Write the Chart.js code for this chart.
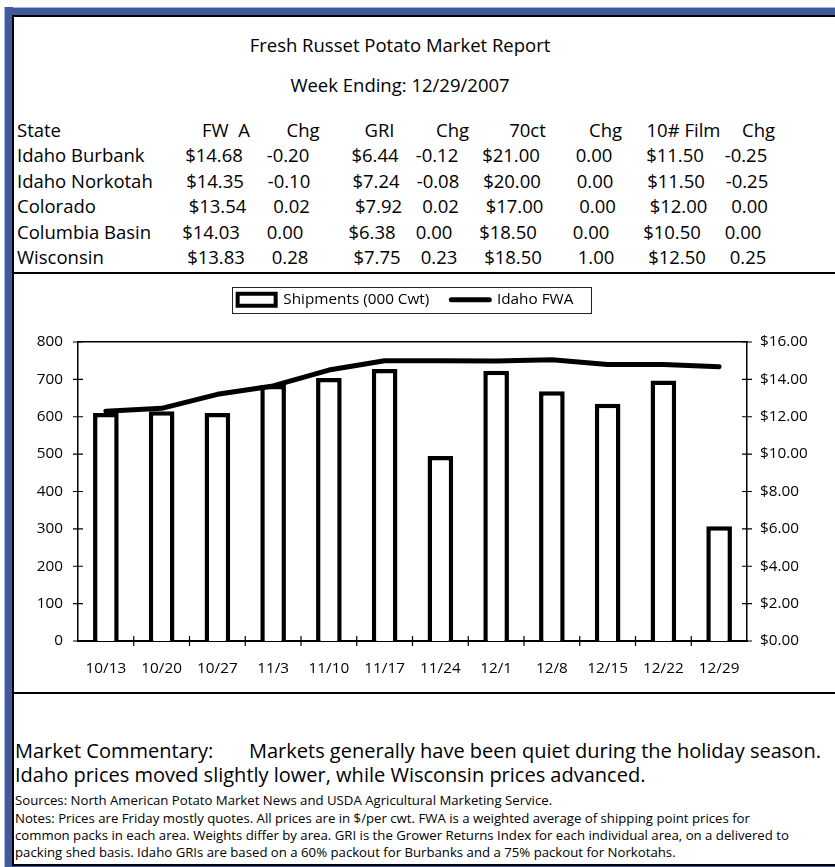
<!DOCTYPE html>
<html>
<head>
<meta charset="utf-8">
<script src="https://cdn.jsdelivr.net/npm/chart.js@4.4.1/dist/chart.umd.min.js"></script>
<style>
  body { margin: 0; width: 835px; height: 867px; position: relative; overflow: hidden; background: #fff; font-family: "Open Sans", sans-serif; color: #000; }
  .abs { position: absolute; white-space: pre; line-height: 1; }
  .blue { position: absolute; background: #405a9c; }
  .black { position: absolute; background: #000; }
  #chartBox { position: absolute; left: 14px; top: 270px; width: 821px; height: 422px; }
</style>
</head>
<body>
<div class="blue" style="left:4px; top:7px; width:831px; height:8px; border-top:1px solid #a9b4d8;"></div>
<div class="blue" style="left:4px; top:7px; width:8px; height:860px; border-left:1px solid #a9b4d8;"></div>
<div class="blue" style="left:12px; top:866px; width:823px; height:1px;"></div>
<div class="black" style="left:12px; top:15px; width:823px; height:2px;"></div>
<div class="black" style="left:12px; top:15px; width:2px; height:851px;"></div>
<div class="black" style="left:12px; top:864px; width:823px; height:2px;"></div>
<div class="black" style="left:14px; top:272px; width:821px; height:2px;"></div>
<div class="black" style="left:14px; top:692px; width:821px; height:2px;"></div>
<div id="text"></div>
<div id="chartBox"><canvas id="potatoChart"></canvas></div>
<script>
// weekly shipments (000 cwt) and Idaho FWA price
const weeks = ['10/13', '10/20', '10/27', '11/3', '11/10', '11/17', '11/24', '12/1', '12/8', '12/15', '12/22', '12/29'];
const shipments = [610, 615, 610, 685, 704, 728, 495, 723, 668, 635, 697, 307];
const idahoFwa = [12.30, 12.45, 13.20, 13.65, 14.50, 15.00, 15.00, 14.98, 15.05, 14.80, 14.80, 14.68];
const seriesNames = ['Shipments (000 Cwt)', 'Idaho FWA'];

// price table
const tableHeader = ['State', 'FW  A', 'Chg', 'GRI', 'Chg', '70ct', 'Chg', '10# Film', 'Chg'];
const tableRows = [
    ['Idaho Burbank', '$14.68', '-0.20', '$6.44', '-0.12', '$21.00', '0.00', '$11.50', '-0.25'],
    ['Idaho Norkotah', '$14.35', '-0.10', '$7.24', '-0.08', '$20.00', '0.00', '$11.50', '-0.25'],
    ['Colorado', '$13.54', '0.02', '$7.92', '0.02', '$17.00', '0.00', '$12.00', '0.00'],
    ['Columbia Basin', '$14.03', '0.00', '$6.38', '0.00', '$18.50', '0.00', '$10.50', '0.00'],
    ['Wisconsin', '$13.83', '0.28', '$7.75', '0.23', '$18.50', '1.00', '$12.50', '0.25']
];

const FONT = '"Open Sans", sans-serif';
const textLayer = document.getElementById('text');

function place(str, x, y, size, center) {
    const el = document.createElement('div');
    el.className = 'abs';
    el.textContent = str;
    el.style.fontSize = size + 'px';
    el.style.left = x + 'px';
    el.style.top = (y - size / 2) + 'px';
    if (center) el.style.transform = 'translateX(-50%)';
    textLayer.appendChild(el);
}

// header block
place('Fresh Russet Potato Market Report', 400, 45, 18.5, true);
place('Week Ending: 12/29/2007', 400, 85, 18.5, true);

const headCenters = [0, 226, 303, 379.5, 452.5, 527.5, 605.5, 683.5, 758.5];
const colCenters = [0, 214, 288, 375, 437, 511, 594, 675, 746];
const rowShift = [0, 1, 3.5, -3, 2];
const rowY = [155.5, 181, 206.5, 232, 257];

tableHeader.forEach((h, c) => {
    if (c === 0) place(h, 17, 130, 18.5, false);
    else place(h, headCenters[c], 130, 18.5, true);
});
tableRows.forEach((row, r) => {
    row.forEach((cell, c) => {
        if (c === 0) place(cell, 17, rowY[r], 18.5, false);
        else place(cell, colCenters[c] + rowShift[r], rowY[r], 18.5, true);
    });
});

// commentary and notes
place('Market Commentary:', 15, 751, 20, false);
place('Markets generally have been quiet during the holiday season.', 249, 751, 20, false);
place('Idaho prices moved slightly lower, while Wisconsin prices advanced.', 15, 775, 20, false);
place('Sources: North American Potato Market News and USDA Agricultural Marketing Service.', 15, 801, 13.2, false);
place('Notes: Prices are Friday mostly quotes. All prices are in $/per cwt. FWA is a weighted average of shipping point prices for', 15, 819, 13.2, false);
place('common packs in each area. Weights differ by area. GRI is the Grower Returns Index for each individual area, on a delivered to', 15, 836, 13.2, false);
place('packing shed basis. Idaho GRIs are based on a 60% packout for Burbanks and a 75% packout for Norkotahs.', 15, 853, 13.2, false);

// tick marks that cross the axis lines
const crossTicks = {
    id: 'crossTicks',
    afterDraw(chart) {
        const { ctx, chartArea: a, scales } = chart;
        ctx.save();
        ctx.strokeStyle = '#000';
        ctx.lineWidth = 1.2;
        ctx.beginPath();
        scales.y.ticks.forEach((t, i) => {
            const py = scales.y.getPixelForTick(i);
            ctx.moveTo(a.left - 5, py);
            ctx.lineTo(a.left + 5, py);
        });
        scales.y1.ticks.forEach((t, i) => {
            const py = scales.y1.getPixelForTick(i);
            ctx.moveTo(a.right - 5, py);
            ctx.lineTo(a.right + 5, py);
        });
        for (let i = 1; i < weeks.length; i++) {
            const px = (scales.x.getPixelForTick(i - 1) + scales.x.getPixelForTick(i)) / 2;
            ctx.moveTo(px, a.bottom - 5);
            ctx.lineTo(px, a.bottom + 5);
        }
        ctx.stroke();
        ctx.restore();
    }
};

// nudge the legend left and frame it with a thin box
const legendFrame = {
    id: 'legendFrame',
    afterLayout(chart) {
        const lg = chart.legend;
        if (lg) {
            lg.left -= 19;
            lg.right -= 19;
        }
    },
    afterDraw(chart) {
        const boxes = chart.legend && chart.legend.legendHitBoxes;
        if (!boxes || !boxes.length) return;
        const first = boxes[0];
        const last = boxes[boxes.length - 1];
        const cy = first.top + first.height / 2;
        const left = Math.round(first.left - 6) + 0.5;
        const right = Math.round(last.left + last.width + 18) + 0.5;
        const ctx = chart.ctx;
        ctx.save();
        ctx.strokeStyle = '#222';
        ctx.lineWidth = 1;
        ctx.strokeRect(left, Math.round(cy - 13) + 0.5, right - left, 26);
        ctx.restore();
    }
};

const tickFont = { family: FONT, size: 15.3 };

new Chart(document.getElementById('potatoChart'), {
    data: {
        labels: weeks,
        datasets: [
            {
                type: 'bar',
                label: seriesNames[0],
                data: shipments,
                yAxisID: 'y',
                backgroundColor: '#fff',
                borderColor: '#000',
                borderWidth: 4.5,
                barPercentage: 0.46,
                categoryPercentage: 1,
                order: 2
            },
            {
                type: 'line',
                label: seriesNames[1],
                data: idahoFwa,
                yAxisID: 'y1',
                borderColor: '#000',
                borderWidth: 5,
                borderCapStyle: 'round',
                borderJoinStyle: 'round',
                pointRadius: 0,
                tension: 0,
                order: 1
            }
        ]
    },
    options: {
        responsive: true,
        maintainAspectRatio: false,
        animation: false,
        layout: { padding: 0 },
        scales: {
            x: {
                position: 'bottom',
                offset: true,
                grid: { display: false, drawTicks: false },
                border: { color: '#000', width: 2 },
                ticks: { color: '#000', font: tickFont, padding: 18, maxRotation: 0, autoSkip: false },
                afterFit: s => { s.height = 51; }
            },
            xTop: {
                type: 'category',
                position: 'top',
                offset: true,
                grid: { display: false, drawTicks: false },
                border: { color: '#000', width: 1.5 },
                ticks: { display: false },
                afterFit: s => { s.height = 24.7; }
            },
            y: {
                position: 'left',
                min: 0,
                max: 800,
                grid: { display: false, drawTicks: false },
                border: { color: '#000', width: 1.5 },
                ticks: { stepSize: 100, color: '#000', font: tickFont, padding: 15 },
                afterFit: s => { s.width = 64; }
            },
            y1: {
                position: 'right',
                min: 0,
                max: 16,
                grid: { display: false, drawTicks: false },
                border: { color: '#000', width: 1.5 },
                ticks: { stepSize: 2, color: '#000', font: tickFont, padding: 13, callback: v => '$' + v.toFixed(2) },
                afterFit: s => { s.width = 88; }
            }
        },
        plugins: {
            tooltip: { enabled: false },
            legend: {
                position: 'top',
                labels: {
                    usePointStyle: true,
                    pointStyleWidth: 38,
                    boxHeight: 12,
                    padding: 22,
                    color: '#000',
                    font: tickFont,
                    generateLabels: chart => chart.data.datasets.map((ds, i) => ({
                        text: ds.label,
                        datasetIndex: i,
                        fillStyle: '#fff',
                        strokeStyle: '#000',
                        lineWidth: ds.type === 'line' ? 5 : 4,
                        lineCap: ds.type === 'line' ? 'round' : 'butt',
                        pointStyle: ds.type === 'line' ? 'line' : 'rect',
                        fontColor: '#000',
                        hidden: false
                    }))
                }
            }
        }
    },
    plugins: [crossTicks, legendFrame]
});
</script>
</body>
</html>
